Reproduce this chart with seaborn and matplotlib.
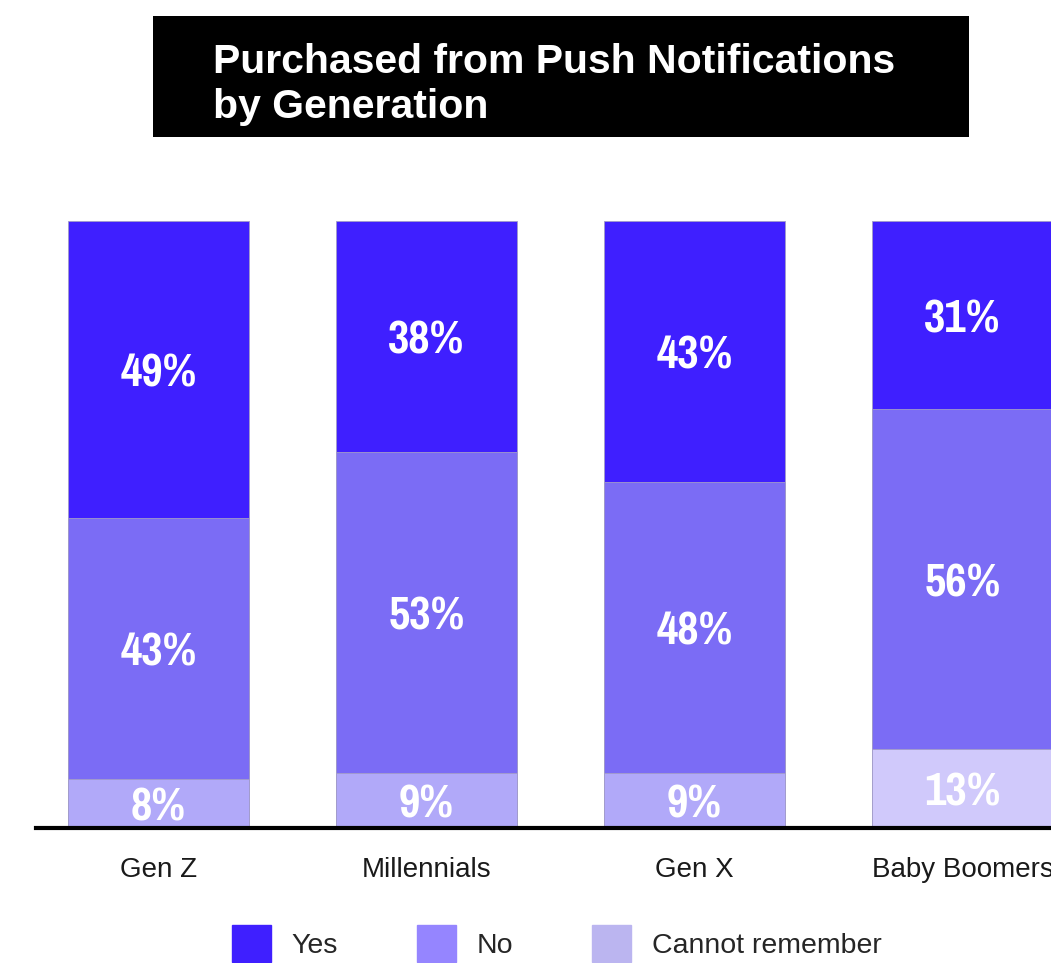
import matplotlib
matplotlib.use("Agg")
import matplotlib.pyplot as plt
from matplotlib import font_manager
from matplotlib.patches import Rectangle, Patch
import seaborn as sns
import pandas as pd

# Survey shares (%) by generation
generations = ["Gen Z", "Millennials", "Gen X", "Baby Boomers"]
yes_pct = [49, 38, 43, 31]
no_pct = [43, 53, 48, 56]
cannot_pct = [8, 9, 9, 13]
series_names = ["Yes", "No", "Cannot remember"]

title = "Purchased from Push Notifications\nby Generation"

col_yes = "#3F1FFF"
col_no = "#7B6CF5"
col_cannot = ["#B1A9F9", "#B1A9F9", "#B1A9F9", "#D0C9FB"]
legend_colors = ["#3F1FFF", "#9585FF", "#BBB5F0"]


def pick_condensed_bold():
    """First narrow family that ships a real bold face."""
    faces = font_manager.fontManager.ttflist
    for fam in ["Archivo Narrow", "Pragati Narrow", "Roboto Condensed",
                "Barlow Condensed", "Oswald", "Liberation Sans Narrow"]:
        if any(f.name == fam and int(f.weight) >= 700 for f in faces):
            return fam
    return "Liberation Sans"


label_family = pick_condensed_bold()

sns.set_theme(style="white")
plt.rcParams["font.family"] = ["Liberation Sans", "DejaVu Sans"]

df = pd.DataFrame({
    "generation": generations,
    "yes": yes_pct,
    "no": no_pct,
    "cannot": cannot_pct,
})
df["no_top"] = df["no"] + df["cannot"]
df["yes_top"] = df["yes"] + df["no_top"]

W, H = 1051, 963
fig = plt.figure(figsize=(W / 100, H / 100), dpi=100)
ax = fig.add_axes([36 / W, 135 / H, 1 - 36 / W, 607 / H])

bar_w = 0.675
edge = dict(edgecolor="#A29CC8", linewidth=0.6, saturation=1)

# stacked bars drawn as overlapping cumulative layers
sns.barplot(data=df, x="generation", y="yes_top", color=col_yes,
            width=bar_w, ax=ax, **edge)
sns.barplot(data=df, x="generation", y="no_top", color=col_no,
            width=bar_w, ax=ax, **edge)
sns.barplot(data=df, x="generation", y="cannot", hue="generation",
            palette=col_cannot, legend=False, width=bar_w, ax=ax, **edge)

label_font = dict(family=[label_family, "Liberation Sans"],
                  weight="bold", color="white", fontsize=36.5,
                  ha="center", va="center_baseline")
for i, row in df.iterrows():
    ax.text(i, row["no_top"] + row["yes"] / 2, f"{row['yes']}%", **label_font)
    ax.text(i, row["cannot"] + row["no"] / 2, f"{row['no']}%", **label_font)
    ax.text(i, row["cannot"] / 2, f"{row['cannot']}%", **label_font)

ax.set_xlim(-0.457, 3.33)
ax.set_ylim(0, 100)
ax.set_xlabel("")
ax.set_ylabel("")
ax.set_yticks([])
for side in ["top", "right", "left"]:
    ax.spines[side].set_visible(False)
ax.spines["bottom"].set_linewidth(3)
ax.spines["bottom"].set_color("black")
ax.spines["bottom"].set_zorder(5)
ax.tick_params(axis="x", length=0, pad=21, labelsize=20, labelcolor="#1a1a1a")

# title banner
fig.patches.append(Rectangle((153 / W, 1 - 137 / H), (969 - 153) / W, 121 / H,
                             transform=fig.transFigure, facecolor="black",
                             edgecolor="none", zorder=0))
fig.text(213 / W, 1 - 43 / H, title, color="white", fontsize=29.5,
         fontweight="bold", ha="left", va="top", linespacing=1.22)

handles = [Patch(facecolor=c, edgecolor=c) for c in legend_colors]
fig.legend(handles, series_names, loc="upper left",
           bbox_to_anchor=(232 / W, 1 - 925 / H), ncol=3, frameon=False,
           fontsize=20.5, handlelength=1.37, handleheight=1.6,
           handletextpad=0.72, columnspacing=2.78, borderpad=0,
           borderaxespad=0)

fig.savefig("out.png", dpi=100)
